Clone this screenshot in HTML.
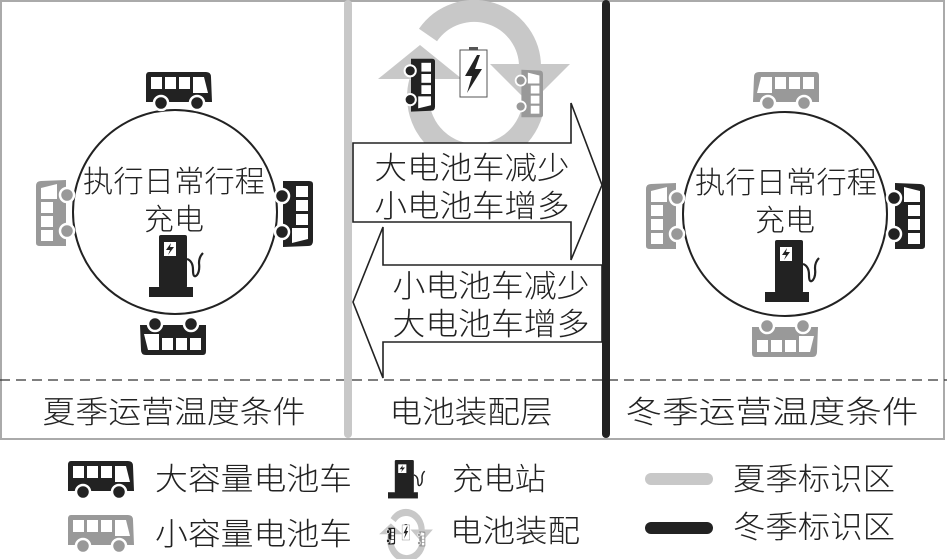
<!DOCTYPE html>
<html><head><meta charset="utf-8"><style>
html,body{margin:0;padding:0;background:#fff;}
svg{display:block;}
text{font-family:"Liberation Sans","Noto Sans CJK SC",sans-serif;fill:#222;font-weight:300;}
</style></head><body>
<svg width="947" height="559" viewBox="0 0 947 559" xmlns="http://www.w3.org/2000/svg">
<defs>
<g id="bus">
  <path d="M4,0 H61 Q66,0 66,5 L67,30 H1 V4 Q1,0 4,0 Z"/>
  <rect x="6" y="5" width="11" height="12" fill="#fff"/>
  <rect x="20" y="5" width="11" height="12" fill="#fff"/>
  <rect x="34" y="5" width="11" height="12" fill="#fff"/>
  <path d="M48,5 H59 L63,21 H48 Z" fill="#fff"/>
  <circle cx="16" cy="31" r="7" stroke="#fff" stroke-width="2.5"/>
  <circle cx="52" cy="31" r="7" stroke="#fff" stroke-width="2.5"/>
</g>
<g id="charger">
  <rect x="10" y="0" width="28" height="53" rx="2" fill="#222"/>
  <rect x="0" y="52" width="44" height="10" fill="#222"/>
  <rect x="15" y="7" width="12" height="14" fill="#fff"/>
  <path d="M22,8 L17,15 H21 L19,20 L25,12 H21 Z" fill="#222"/>
  <path d="M38,24 Q44,26 44,35 Q44,44 48,40 Q51,36 50,28 Q50,22 54,18" fill="none" stroke="#222" stroke-width="2.2"/>
</g>
<g id="cycle">
  <g fill="none" stroke="#c8c8c8" stroke-width="22">
    <path d="M420,82 A56,56 0 0 0 532,112"/>
    <path d="M428,35 A56,56 0 0 1 530,68"/>
  </g>
  <polygon points="378,79 420,45 462,79" fill="#c8c8c8"/>
  <polygon points="490,64 570,64 530,104" fill="#c8c8c8"/>
  <use href="#bus" fill="#222" transform="translate(435,58) rotate(90) scale(0.8,0.8)"/>
  <use href="#bus" fill="#999" transform="translate(543,118) scale(1,-1) rotate(90) scale(0.72,0.72)"/>
  <rect x="460" y="50" width="27" height="47" fill="#fff" stroke="#555" stroke-width="1"/>
  <rect x="469" y="47" width="9" height="3" fill="#555"/>
  <path d="M477,55 L465,76 H472 L467,93 L482,69 H475 L480,55 Z" fill="#222"/>
</g>
</defs>

<!-- frame -->
<rect x="1" y="1" width="943" height="438" fill="none" stroke="#aaa" stroke-width="2"/>
<line x1="0" y1="380" x2="947" y2="380" stroke="#333" stroke-width="1.3" stroke-dasharray="10,6"/>

<!-- LEFT PANEL -->
<circle cx="175" cy="212" r="102" fill="#fff" stroke="#222" stroke-width="2"/>
<use href="#bus" fill="#222" transform="translate(145,72)"/>
<use href="#bus" fill="#999" transform="translate(36,247) rotate(-90)"/>
<use href="#bus" fill="#222" transform="translate(313,180) rotate(90)"/>
<use href="#bus" fill="#222" transform="translate(207,355) rotate(180)"/>
<use href="#charger" transform="translate(149,235)"/>
<text x="174" y="192" font-size="30" text-anchor="middle" textLength="182" lengthAdjust="spacingAndGlyphs">执行日常行程</text>
<text x="174" y="230" font-size="30" text-anchor="middle">充电</text>
<text x="174" y="423" font-size="31" text-anchor="middle" textLength="263" lengthAdjust="spacingAndGlyphs">夏季运营温度条件</text>

<!-- RIGHT PANEL -->
<circle cx="785" cy="214" r="102" fill="#fff" stroke="#222" stroke-width="2"/>
<use href="#bus" fill="#999" transform="translate(820,72) scale(-1,1)"/>
<use href="#bus" fill="#999" transform="translate(646,250) rotate(-90)"/>
<use href="#bus" fill="#222" transform="translate(925,250) scale(1,-1) rotate(90)"/>
<use href="#bus" fill="#999" transform="translate(751,357) scale(1,-1)"/>
<use href="#charger" transform="translate(765,240)"/>
<text x="786" y="193" font-size="30" text-anchor="middle" textLength="182" lengthAdjust="spacingAndGlyphs">执行日常行程</text>
<text x="785" y="231" font-size="30" text-anchor="middle">充电</text>
<text x="772" y="423" font-size="31" text-anchor="middle" textLength="293" lengthAdjust="spacingAndGlyphs">冬季运营温度条件</text>

<!-- MIDDLE -->
<use href="#cycle"/>

<!-- arrows -->
<polygon points="353,143 571,143 571,103 602,185 571,260 571,222 353,222" fill="#fff" stroke="#222" stroke-width="1.6"/>
<polygon points="602,265 383,265 383,227 353,302 383,378 383,342 602,342" fill="#fff" stroke="#222" stroke-width="1.6"/>
<text x="472" y="179" font-size="31" text-anchor="middle" textLength="195" lengthAdjust="spacingAndGlyphs">大电池车减少</text>
<text x="472" y="217" font-size="31" text-anchor="middle" textLength="195" lengthAdjust="spacingAndGlyphs">小电池车增多</text>
<text x="491" y="297" font-size="31" text-anchor="middle" textLength="197" lengthAdjust="spacingAndGlyphs">小电池车减少</text>
<text x="491" y="335" font-size="31" text-anchor="middle" textLength="197" lengthAdjust="spacingAndGlyphs">大电池车增多</text>
<text x="471" y="423" font-size="31" text-anchor="middle" textLength="163" lengthAdjust="spacingAndGlyphs">电池装配层</text>

<!-- season lines -->
<line x1="348" y1="4" x2="348" y2="434" stroke="#c8c8c8" stroke-width="8" stroke-linecap="round"/>
<line x1="606" y1="4" x2="606" y2="434" stroke="#222" stroke-width="8" stroke-linecap="round"/>

<!-- LEGEND -->
<use href="#bus" fill="#222" transform="translate(67,461)"/>
<use href="#bus" fill="#999" transform="translate(67,515)"/>
<text x="155" y="490" font-size="31" textLength="197" lengthAdjust="spacingAndGlyphs">大容量电池车</text>
<text x="155" y="545" font-size="31" textLength="197" lengthAdjust="spacingAndGlyphs">小容量电池车</text>
<use href="#charger" transform="translate(388,460) scale(0.68,0.62)"/>
<text x="452" y="490" font-size="31" textLength="94" lengthAdjust="spacingAndGlyphs">充电站</text>
<g transform="translate(406,532) scale(0.28,0.32) translate(-474,-72)">
  <use href="#cycle"/>
</g>
<text x="450" y="542" font-size="31" textLength="130" lengthAdjust="spacingAndGlyphs">电池装配</text>
<line x1="651" y1="479" x2="707" y2="479" stroke="#c8c8c8" stroke-width="12" stroke-linecap="round"/>
<line x1="651" y1="528" x2="707" y2="528" stroke="#222" stroke-width="12" stroke-linecap="round"/>
<text x="733" y="490" font-size="31" textLength="162" lengthAdjust="spacingAndGlyphs">夏季标识区</text>
<text x="733" y="538" font-size="31" textLength="162" lengthAdjust="spacingAndGlyphs">冬季标识区</text>
</svg>
</body></html>
